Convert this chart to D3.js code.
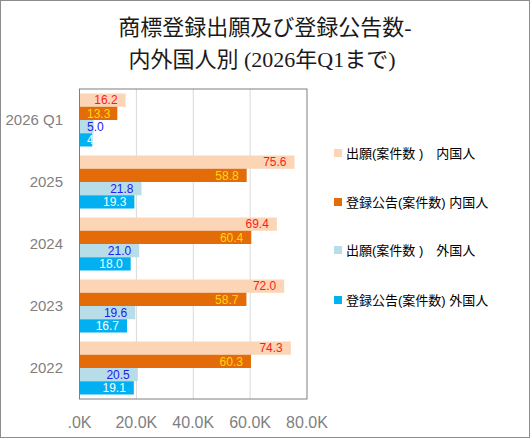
<!DOCTYPE html>
<html>
<head>
<meta charset="utf-8">
<script src="https://cdn.jsdelivr.net/npm/d3@7"></script>
<style>
  body { margin: 0; background: #fff; }
</style>
</head>
<body>
<div id="chart"></div>
<script>
// データ (千件)
const categories = ["2026 Q1", "2025", "2024", "2023", "2022"];
const seriesNames = [
  "出願(案件数 )　内国人",
  "登録公告(案件数) 内国人",
  "出願(案件数 )　外国人",
  "登録公告(案件数) 外国人"
];
const domesticApps = [16.2, 75.6, 69.4, 72.0, 74.3];
const domesticRegs = [13.3, 58.8, 60.4, 58.7, 60.3];
const foreignApps = [5.0, 21.8, 21.0, 19.6, 20.5];
const foreignRegs = [4.5, 19.3, 18.0, 16.7, 19.1];
const tickValues = [0, 20, 40, 60, 80];
const tickLabels = [".0K", "20.0K", "40.0K", "60.0K", "80.0K"];

const seriesValues = [domesticApps, domesticRegs, foreignApps, foreignRegs];
const barColors = ["#FBD5B5", "#E36C09", "#B7DDE8", "#00B0F0"];
const labelColors = ["#FF1A1A", "#FFD800", "#2020F0", "#FFFFFF"];

const width = 531, height = 439;
const plot = { left: 79.5, right: 307, top: 89, bottom: 399 };

const svg = d3.select("#chart").append("svg")
  .attr("width", width)
  .attr("height", height)
  .style("font-family", "'Liberation Sans', Arial, 'Noto Sans CJK JP', sans-serif");

const defs = svg.append("defs");

// 外枠
svg.append("rect")
  .attr("x", 0.5).attr("y", 0.5)
  .attr("width", width - 2).attr("height", height - 2)
  .attr("fill", "#fff").attr("stroke", "#8c8c8c");

// タイトル
const title = svg.append("text")
  .attr("text-anchor", "middle")
  .attr("font-family", "'Liberation Serif', 'Times New Roman', 'Noto Sans CJK JP', serif")
  .attr("font-size", "22px")
  .attr("fill", "#1a1a1a");
title.append("tspan").attr("x", 265).attr("y", 35).text("商標登録出願及び登録公告数-");
title.append("tspan").attr("x", 262).attr("y", 67).text("内外国人別 (2026年Q1まで)");

const x = d3.scaleLinear().domain([0, 80]).range([plot.left, plot.right]);
const y = d3.scaleBand().domain(categories)
  .range([plot.top, plot.bottom])
  .paddingInner(0.145).paddingOuter(0.0725);
const ySub = d3.scaleBand().domain(d3.range(seriesNames.length))
  .range([0, y.bandwidth()]);

// グリッド線
svg.append("g").selectAll("line")
  .data(tickValues.slice(1, -1))
  .join("line")
  .attr("x1", d => x(d)).attr("x2", d => x(d))
  .attr("y1", plot.top).attr("y2", plot.bottom)
  .attr("stroke", "#d9d9d9");

// 棒
const groups = svg.append("g").selectAll("g")
  .data(categories)
  .join("g")
  .attr("transform", d => "translate(0," + y(d) + ")");

groups.each(function (cat, ci) {
  const g = d3.select(this);
  seriesValues.forEach(function (vals, si) {
    const v = vals[ci];
    g.append("rect")
      .attr("x", x(0))
      .attr("y", ySub(si))
      .attr("width", x(v) - x(0))
      .attr("height", ySub.bandwidth())
      .attr("fill", barColors[si]);

    // 白いラベルは棒の中だけに見える
    const clipId = "clip-" + ci + "-" + si;
    defs.append("clipPath").attr("id", clipId)
      .append("rect")
      .attr("x", x(0)).attr("y", ySub(si))
      .attr("width", si === 3 ? x(v) - x(0) : plot.right - plot.left)
      .attr("height", ySub.bandwidth());

    const t = g.append("text")
      .attr("y", ySub(si) + ySub.bandwidth() / 2)
      .attr("dy", "0.36em")
      .attr("font-size", "12px")
      .attr("fill", labelColors[si])
      .attr("clip-path", "url(#" + clipId + ")")
      .text(v.toFixed(1));
    const tw = t.node().getComputedTextLength();
    // 短い棒はラベルを左寄せ
    if (x(v) - 8 - tw < x(0) + 7) {
      t.attr("x", x(0) + 7.5).attr("text-anchor", "start");
    } else {
      t.attr("x", x(v) - 8).attr("text-anchor", "end");
    }
  });
});

// プロット枠
svg.append("rect")
  .attr("x", plot.left).attr("y", plot.top)
  .attr("width", plot.right - plot.left).attr("height", plot.bottom - plot.top)
  .attr("fill", "none").attr("stroke", "#7f7f7f");

// カテゴリーラベル
svg.append("g").selectAll("text")
  .data(categories)
  .join("text")
  .attr("x", 63)
  .attr("y", d => y(d) + y.bandwidth() / 2)
  .attr("dy", "0.36em")
  .attr("text-anchor", "end")
  .attr("font-size", "15px")
  .attr("fill", "#7f7f7f")
  .text(d => d);

// X軸ラベル
svg.append("g").selectAll("text")
  .data(tickValues)
  .join("text")
  .attr("x", d => x(d))
  .attr("y", 428)
  .attr("text-anchor", "middle")
  .attr("font-size", "16px")
  .attr("fill", "#7f7f7f")
  .text((d, i) => tickLabels[i]);

// 凡例
const legendY = [153, 202, 250, 300];
const legend = svg.append("g").selectAll("g")
  .data(seriesNames)
  .join("g")
  .attr("transform", (d, i) => "translate(334," + legendY[i] + ")");
legend.append("rect")
  .attr("x", 0).attr("y", -4)
  .attr("width", 8).attr("height", 8)
  .attr("fill", (d, i) => barColors[i]);
legend.append("text")
  .attr("x", 12)
  .attr("dy", "0.36em")
  .attr("font-size", "13px")
  .attr("fill", "#000")
  .text(d => d);
</script>
</body>
</html>
